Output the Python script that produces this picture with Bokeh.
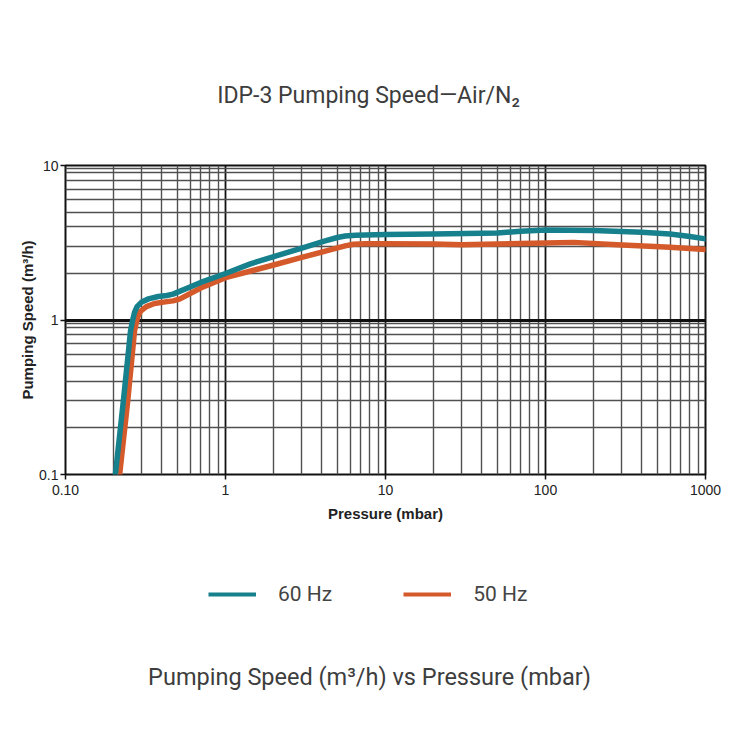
from bokeh.plotting import figure
from bokeh.layouts import column
from bokeh.models import FixedTicker, Legend, LegendItem
from bokeh.core.properties import value
from bokeh.embed import file_html
from bokeh.resources import INLINE

# ---- data ----
pressure_60 = [0.205, 0.23, 0.255, 0.263, 0.27, 0.28, 0.30, 0.33, 0.38, 0.43, 0.47, 0.7, 1.0,
               1.43, 2.0, 3.0, 4.2, 5.0, 5.6, 6.5, 10, 20, 50, 70, 100, 200, 400, 600, 800, 1000]
speed_60 = [0.1, 0.3, 0.85, 1.0, 1.12, 1.22, 1.31, 1.37, 1.42, 1.44, 1.47, 1.75, 2.0,
            2.31, 2.57, 2.92, 3.25, 3.42, 3.5, 3.54, 3.57, 3.6, 3.66, 3.75, 3.83, 3.8, 3.7, 3.6, 3.47, 3.35]

pressure_50 = [0.218, 0.245, 0.27, 0.278, 0.285, 0.295, 0.32, 0.36, 0.42, 0.47, 0.52, 0.7, 1.0,
               1.5, 2.0, 3.0, 4.5, 5.6, 6.3, 7.5, 10, 20, 30, 50, 100, 150, 280, 600, 1000]
speed_50 = [0.1, 0.3, 0.85, 0.98, 1.07, 1.14, 1.22, 1.28, 1.31, 1.33, 1.37, 1.61, 1.88,
            2.1, 2.27, 2.54, 2.84, 3.02, 3.09, 3.11, 3.12, 3.1, 3.07, 3.1, 3.15, 3.18, 3.07, 2.96, 2.86]

x_major = [0.1, 1, 10, 100, 1000]
x_labels = ["0.10", "1", "10", "100", "1000"]
y_major = [0.1, 1, 10]
y_labels = ["0.1", "1", "10"]
x_minor_mult = [2, 3, 4, 5, 6, 7, 8, 9]
y_minor_mult = [2, 3, 4, 5, 6, 7, 8, 9, 9.5]

series_names = ["60 Hz", "50 Hz"]
title_text = "IDP-3 Pumping Speed\u2014Air/N\u2082"
subtitle_text = "Pumping Speed (m\u00b3/h) vs Pressure (mbar)"
x_title = "Pressure (mbar)"
y_title = "Pumping Speed (m\u00b3/h)"

TEAL = "#17808d"
ORANGE = "#d55a2b"
W = 736
TOP_H = 130
MAIN_H = 415
BOT_H = 736 - TOP_H - MAIN_H
FRAME_L, FRAME_R = 65, 705   # column layout aligns all frames to the main chart's frame

x_minor = [d * m for d in x_major[:-1] for m in x_minor_mult]
y_minor = [d * m for d in y_major[:-1] for m in y_minor_mult]


def blank(h):
    f = figure(width=W, height=h, x_range=(FRAME_L, FRAME_R), y_range=(0, h),
               x_axis_type=None, y_axis_type=None, output_backend="svg",
               toolbar_location=None, min_border=0)
    f.outline_line_color = None
    f.background_fill_color = "white"
    f.border_fill_color = "white"
    return f


# ---- top: title ----
top = blank(TOP_H)
top.text(x=[368], y=[TOP_H - 95], text=[title_text], text_align="center",
         text_baseline="middle", text_font=value("Roboto"), text_font_size="23px",
         text_color="#3d3d3d")

# ---- main chart ----
p = figure(width=W, height=MAIN_H, x_axis_type="log", y_axis_type="log",
           x_range=(0.1, 1000), y_range=(0.1, 10),
           output_backend="svg", toolbar_location=None,
           min_border_left=FRAME_L, min_border_right=W - FRAME_R, min_border_top=165 - TOP_H,
           min_border_bottom=TOP_H + MAIN_H - 474)
p.background_fill_color = "white"
p.border_fill_color = "white"
p.outline_line_color = "#111111"
p.outline_line_width = 2

p.xaxis.ticker = FixedTicker(ticks=x_major, minor_ticks=x_minor)
p.yaxis.ticker = FixedTicker(ticks=y_major, minor_ticks=y_minor)
p.xaxis.major_label_overrides = {v: s for v, s in zip(x_major, x_labels)}
p.yaxis.major_label_overrides = {v: s for v, s in zip(y_major, y_labels)}

for ax in (p.xaxis, p.yaxis):
    ax.axis_line_color = None
    ax.major_tick_out = 5
    ax.major_tick_in = 0
    ax.major_tick_line_color = "#111111"
    ax.major_tick_line_width = 1.5
    ax.minor_tick_line_color = None
    ax.major_label_text_font = "Liberation Sans"
    ax.major_label_text_font_size = "14px"
    ax.major_label_text_color = "#222222"
    ax.axis_label_text_font = "Liberation Sans"
    ax.axis_label_text_font_size = "15px"
    ax.axis_label_text_font_style = "bold"
    ax.axis_label_text_color = "#222222"

p.xaxis.axis_label = x_title
p.yaxis.axis_label = y_title
p.xaxis.major_label_standoff = 5
p.xaxis.axis_label_standoff = 7
p.yaxis.major_label_standoff = 2
p.yaxis.axis_label_standoff = 0

p.xgrid.grid_line_color = "#111111"
p.xgrid.grid_line_width = 1.8
p.ygrid.grid_line_color = "#111111"
p.ygrid.grid_line_width = 2.8
for g in (p.xgrid, p.ygrid):
    g.minor_grid_line_color = "#505050"
    g.minor_grid_line_width = 1.4

r50 = p.line(pressure_50, speed_50, line_color=ORANGE, line_width=5.5,
             line_join="round", line_cap="round")
r60 = p.line(pressure_60, speed_60, line_color=TEAL, line_width=5.5,
             line_join="round", line_cap="round")

# ---- bottom: legend + subtitle ----
bot = blank(BOT_H)
nan = float("nan")
l60 = bot.line(x=[nan], y=[nan], line_color=TEAL, line_width=4)
l50 = bot.line(x=[nan], y=[nan], line_color=ORANGE, line_width=4)
leg_center_y = BOT_H - (596 - TOP_H - MAIN_H)
legend = Legend(items=[LegendItem(label=series_names[0], renderers=[l60]),
                       LegendItem(label=series_names[1], renderers=[l50])],
                location=(208 - FRAME_L, leg_center_y - 10), orientation="horizontal",
                glyph_width=48, glyph_height=20, label_height=20, label_standoff=22,
                spacing=71, padding=0, margin=0,
                border_line_color=None, background_fill_alpha=0,
                label_text_font="Roboto", label_text_font_size="21px",
                label_text_color="#444444", label_text_baseline="middle")
bot.add_layout(legend, "center")
bot.text(x=[369], y=[BOT_H - (676 - TOP_H - MAIN_H)], text=[subtitle_text],
         text_align="center", text_baseline="middle", text_font=value("Roboto"),
         text_font_size="23.5px", text_color="#3d3d3d")

layout = column(top, p, bot, spacing=0)
open("out.html", "w").write(file_html(layout, INLINE))
